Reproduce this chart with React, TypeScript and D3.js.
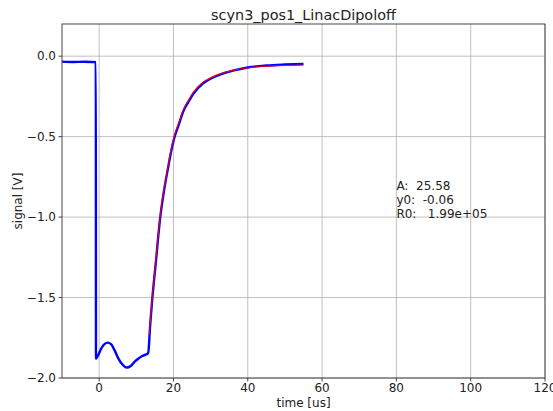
import React from "react";
import * as d3 from "d3";

const title = "scyn3_pos1_LinacDipoloff";
const xTicks = [0, 20, 40, 60, 80, 100, 120];
const yTicks = [-2.0, -1.5, -1.0, -0.5, 0.0];

// measured signal (blue)
const sigT = [-10, -7, -4, -2, -0.9, -0.85, -0.3, 0.5, 1.2, 2.2, 3.2, 4.2, 5.2, 6.2, 7.4, 8.5, 9.5, 10.5, 11.5, 12.5, 13.2, 13.4, 13.6, 14.3, 15.3, 16.4, 17.5, 18.5, 19.3, 20.2, 21.5, 22.8, 24, 25.3, 28, 30, 32.5, 36, 40, 45, 50, 55];
const sigV = [-0.034, -0.036, -0.035, -0.036, -0.037, -1.88, -1.86, -1.82, -1.795, -1.78, -1.79, -1.83, -1.88, -1.915, -1.935, -1.925, -1.9, -1.88, -1.865, -1.855, -1.845, -1.8, -1.72, -1.51, -1.27, -1.01, -0.83, -0.7, -0.6, -0.51, -0.42, -0.335, -0.285, -0.235, -0.168, -0.14, -0.115, -0.09, -0.07, -0.058, -0.052, -0.048];

// fit (red)
const fitT = [13.5, 14.3, 15.3, 16.4, 17.5, 18.5, 19.3, 20.2, 21.5, 22.8, 24, 25.3, 28, 30, 32.5, 36, 40, 45, 50, 55];
const fitV = [-1.73, -1.5, -1.26, -1.0, -0.82, -0.69, -0.59, -0.5, -0.41, -0.325, -0.275, -0.225, -0.16, -0.135, -0.11, -0.088, -0.072, -0.063, -0.058, -0.056];

const fitText = ["A:  25.58", "y0:  -0.06", "R0:   1.99e+05"];

const W = 553, H = 411;
const L = 62, R = 545, T = 24, B = 378;
const font = "DejaVu Sans, sans-serif";

export default function App() {
  const x = d3.scaleLinear().domain([-10, 120]).range([L, R]);
  const y = d3.scaleLinear().domain([-2.0, 0.2]).range([B, T]);
  const sigPath = d3.line<number>().x((_, i) => x(sigT[i])).y((d) => y(d)).curve(d3.curveMonotoneX)(sigV) || "";
  const fitPath = d3.line<number>().x((_, i) => x(fitT[i])).y((d) => y(d)).curve(d3.curveMonotoneX)(fitV) || "";
  const fmt = (v: number) => v.toFixed(1).replace("-", "\u2212");
  return (
    <svg width={W} height={H} style={{ position: "absolute", left: 0, top: 0, background: "#fff" }} fontFamily={font}>
      <rect x={0} y={0} width={W} height={H} fill="#fff" />
      {xTicks.map((t) => (
        <line key={"gx" + t} x1={x(t)} x2={x(t)} y1={T} y2={B} stroke="#b0b0b0" strokeWidth={0.8} />
      ))}
      {yTicks.map((t) => (
        <line key={"gy" + t} x1={L} x2={R} y1={y(t)} y2={y(t)} stroke="#b0b0b0" strokeWidth={0.8} />
      ))}
      <defs>
        <clipPath id="clip"><rect x={L} y={T} width={R - L} height={B - T} /></clipPath>
      </defs>
      <g clipPath="url(#clip)">
        <path d={sigPath} fill="none" stroke="#0000ff" strokeWidth={2.4} strokeLinejoin="round" />
        <path d={fitPath} fill="none" stroke="#ff0000" strokeWidth={1.2} strokeOpacity={0.85} />
      </g>
      <rect x={L} y={T} width={R - L} height={B - T} fill="none" stroke="#333" strokeWidth={0.9} />
      {xTicks.map((t) => (
        <g key={"tx" + t}>
          <line x1={x(t)} x2={x(t)} y1={B} y2={B + 3.5} stroke="#333" strokeWidth={0.9} />
          <text x={x(t)} y={B + 14} fontSize={12} textAnchor="middle" fill="#222">{t}</text>
        </g>
      ))}
      {yTicks.map((t) => (
        <g key={"ty" + t}>
          <line x1={L - 3.5} x2={L} y1={y(t)} y2={y(t)} stroke="#333" strokeWidth={0.9} />
          <text x={L - 6} y={y(t) + 4.3} fontSize={12} textAnchor="end" fill="#222">{fmt(t)}</text>
        </g>
      ))}
      <text x={(L + R) / 2} y={407} fontSize={12} textAnchor="middle" fill="#222">time [us]</text>
      <text transform={`translate(22,${(T + B) / 2}) rotate(-90)`} fontSize={12} textAnchor="middle" fill="#222">signal [V]</text>
      <text x={(L + R) / 2} y={19.5} fontSize={14.4} textAnchor="middle" fill="#222">{title}</text>
      {fitText.map((s, i) => (
        <text key={s} x={x(80)} y={190 + i * 14} fontSize={12} fill="#222" style={{ whiteSpace: "pre" }}>{s}</text>
      ))}
    </svg>
  );
}
